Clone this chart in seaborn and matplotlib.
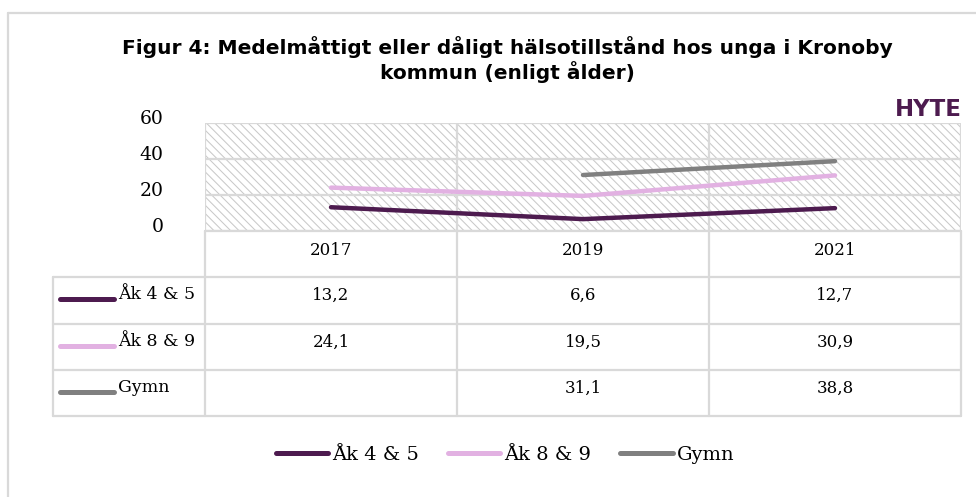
import numpy as np
import pandas as pd
import matplotlib
matplotlib.use("Agg")
import matplotlib.pyplot as plt
import matplotlib.transforms as mtransforms
from matplotlib.patches import Rectangle
import seaborn as sns

# data
years = ["2017", "2019", "2021"]
series = ["Åk 4 & 5", "Åk 8 & 9", "Gymn"]
ak45 = [13.2, 6.6, 12.7]
ak89 = [24.1, 19.5, 30.9]
gymn = [np.nan, 31.1, 38.8]
colors = ["#4d1b4f", "#e2b1e2", "#808080"]
yticks = [0, 20, 40, 60]

rows = []
for name, vals in zip(series, [ak45, ak89, gymn]):
    for i, v in enumerate(vals):
        rows.append({"serie": name, "pos": i, "value": v})
df = pd.DataFrame(rows).dropna()

sns.set_theme(style="white")
plt.rcParams["text.color"] = "black"
plt.rcParams["hatch.linewidth"] = 0.75
plt.rcParams["hatch.color"] = "#c9c9c9"
serif = "DejaVu Serif"
grid_c = "#d9d9d9"

W, H = 976, 497
fig = plt.figure(figsize=(W / 100, H / 100), dpi=100)

# outer border (frame of the excel chart)
fig.add_artist(plt.Line2D([8 / W, 8 / W], [0, 1 - 13 / H], color=grid_c, lw=1.6))
fig.add_artist(plt.Line2D([8 / W, 1], [1 - 13 / H, 1 - 13 / H], color=grid_c, lw=1.6))

# -------------------------------
# plot area
left, right, top, bottom = 205, 961, 123, 231
ax = fig.add_axes([left / W, 1 - bottom / H, (right - left) / W, (bottom - top) / H])
ax.add_patch(Rectangle((0, 0), 1, 1, transform=ax.transAxes, facecolor="white",
                       edgecolor="#c9c9c9", hatch="\\\\\\\\", lw=0, zorder=0))
for y in yticks:
    ax.axhline(y, color=grid_c, lw=1.6, zorder=1)
for x in [-0.5, 0.5, 1.5, 2.5]:
    ax.axvline(x, color=grid_c, lw=1.6, zorder=1)

sns.lineplot(data=df, x="pos", y="value", hue="serie", hue_order=series,
             palette=colors, linewidth=3.2, legend=False, ax=ax, zorder=3)
for ln in ax.lines:
    ln.set_solid_capstyle("round")

ax.set_xlim(-0.5, 2.5)
ax.set_ylim(0, 60)
ax.set_xticks([])
ax.set_yticks(yticks)
ax.set_yticklabels([str(v) for v in yticks], fontsize=13.5, family=serif, color="black")
ax.tick_params(axis="y", length=0, pad=30)
offset = mtransforms.ScaledTranslation(0, 6 / 100, fig.dpi_scale_trans)
for lab in ax.get_yticklabels():
    lab.set_transform(lab.get_transform() + offset)
ax.set_xlabel("")
ax.set_ylabel("")
for s in ax.spines.values():
    s.set_visible(False)

# -------------------------------
# data table under the plot
tleft, tbottom = 53, 416
unit = (right - left) / 3
x0 = -0.5 - (left - tleft) / unit
tab = fig.add_axes([tleft / W, 1 - tbottom / H, (right - tleft) / W, (tbottom - bottom) / H])
tab.set_xlim(x0, 2.5)
tab.set_ylim(4, 0)
tab.axis("off")

tab.plot([-0.5, 2.5], [0, 0], color=grid_c, lw=1.6, clip_on=False)
for r in [1, 2, 3, 4]:
    tab.plot([x0, 2.5], [r, r], color=grid_c, lw=1.6, clip_on=False)
tab.plot([x0, x0], [1, 4], color=grid_c, lw=1.6, clip_on=False)
for x in [-0.5, 0.5, 1.5, 2.5]:
    tab.plot([x, x], [0, 4], color=grid_c, lw=1.6, clip_on=False)

for i, yr in enumerate(years):
    tab.text(i, 0.42, yr, ha="center", va="center", fontsize=12, family=serif)

for r, (name, vals, c) in enumerate(zip(series, [ak45, ak89, gymn], colors), start=1):
    key_x1 = x0 + 7 / unit
    key_x2 = x0 + 61 / unit
    tab.plot([key_x1, key_x2], [r + 0.48, r + 0.48], color=c, lw=3.6,
             solid_capstyle="round", clip_on=False)
    tab.text(x0 + 65 / unit, r + 0.38, name, ha="left", va="center", fontsize=12.5, family=serif)
    for i, v in enumerate(vals):
        if not np.isnan(v):
            tab.text(i, r + 0.4, f"{v:.1f}".replace(".", ","), ha="center", va="center",
                     fontsize=12, family=serif)

# -------------------------------
# title, logo, legend
fig.text(507 / W, 1 - 47 / H, "Figur 4: Medelmåttigt eller dåligt hälsotillstånd hos unga i Kronoby",
         ha="center", va="center", fontsize=14.5, fontweight="bold", family="DejaVu Sans")
fig.text(507 / W, 1 - 72 / H, "kommun (enligt ålder)",
         ha="center", va="center", fontsize=14.5, fontweight="bold", family="DejaVu Sans")
fig.text(962 / W, 1 - 110 / H, "HYTE", ha="right", va="center", fontsize=16.5,
         fontweight="heavy", family="DejaVu Sans", color="#4d1b4f")

handles = [plt.Line2D([], [], color=c, lw=3.6, solid_capstyle="round") for c in colors]
fig.legend(handles, series, loc="center", bbox_to_anchor=(505 / W, 1 - 455 / H), ncol=3,
           frameon=False, handlelength=2.7, handletextpad=0.2, columnspacing=1.5,
           prop={"family": serif, "size": 14})

fig.savefig("out.png", dpi=100)
